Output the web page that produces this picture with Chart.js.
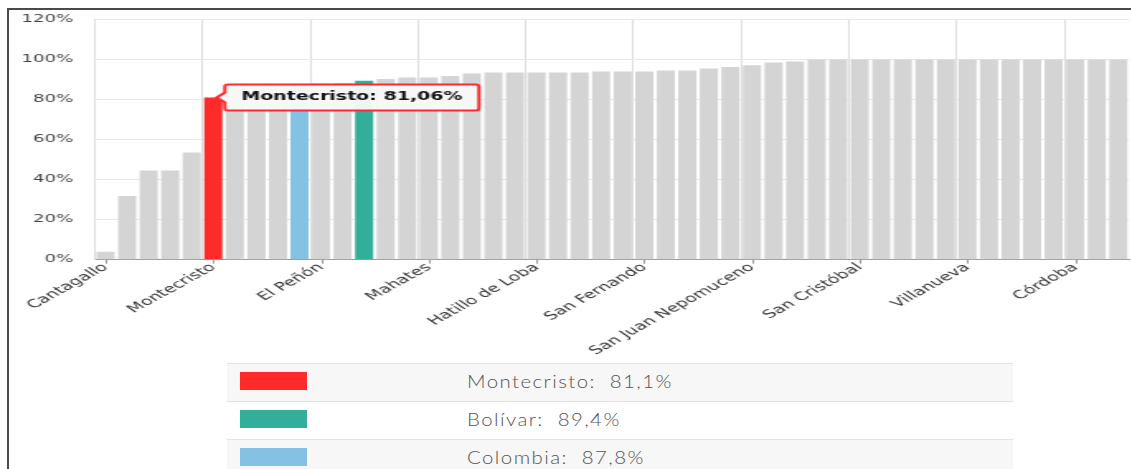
<!DOCTYPE html>
<html>
<head>
<meta charset="utf-8">
<script src="https://cdn.jsdelivr.net/npm/chart.js@4.4.0/dist/chart.umd.min.js"></script>
<style>
body { margin:0; background:#fff; width:1131px; height:469px; overflow:hidden; position:relative; }
#frame { position:absolute; left:7px; top:8px; width:1200px; height:500px; border-left:2px solid #4a4a4a; border-top:2px solid #4a4a4a; }
#chartBox { position:absolute; left:0; top:0.4px; width:688px; height:363px; transform:scaleX(1.65); transform-origin:0 0; }
#legend { position:absolute; left:227px; top:363px; width:786px; font-family:Lato, sans-serif; font-weight:300; font-size:17px; color:#555; }
.row { height:37px; border-top:1px solid #e2e2e2; position:relative; }
.row.alt { background:#f7f7f7; }
.sw { position:absolute; left:13px; top:8px; width:67px; height:18px; }
.txt { position:absolute; left:240px; top:7px; letter-spacing:1.2px; white-space:pre; transform:scaleX(1.2); transform-origin:0 0; }
</style>
</head>
<body>
<div id="frame"></div>
<div id="chartBox"><canvas id="barChart" width="688" height="363"></canvas></div>
<div id="legend"></div>
<script>
// municipios (y totales Bolívar / Colombia), ordenados por valor
var municipios = ["Cantagallo", "Norosí", "Tiquisio", "Arenal", "Altos del Rosario",
	"Montecristo", "Achí", "Barranco de Loba", "San Jacinto del Cauca", "Colombia",
	"El Peñón", "Pinillos", "Bolívar", "Regidor", "Río Viejo",
	"Mahates", "Morales", "San Martín de Loba", "Santa Rosa del Sur", "Simití",
	"Hatillo de Loba", "Margarita", "San Pablo", "Talaigua Nuevo", "Magangué",
	"San Fernando", "Mompós", "Cicuco", "El Carmen de Bolívar", "María La Baja",
	"San Juan Nepomuceno", "Zambrano", "San Jacinto", "El Guamo", "Calamar",
	"San Cristóbal", "Soplaviento", "San Estanislao", "Santa Catalina", "Santa Rosa",
	"Villanueva", "Clemencia", "Arroyohondo", "Turbaná", "Turbaco",
	"Córdoba", "Arjona", "Cartagena"];
var valores = [4.0, 31.8, 44.5, 44.5, 53.5,
	81.06, 87.0, 87.2, 87.5, 87.8,
	88.0, 88.3, 89.4, 90.3, 91.0,
	91.0, 91.8, 93.0, 93.5, 93.5,
	93.5, 93.5, 93.5, 94.0, 94.0,
	94.0, 94.5, 94.5, 95.5, 96.3,
	97.2, 98.5, 99.0, 100, 100,
	100, 100, 100, 100, 100,
	100, 100, 100, 100, 100,
	100, 100, 100];
var yTicks = [0, 20, 40, 60, 80, 100, 120];
var destacados = ["Montecristo", "Bolívar", "Colombia"];
var coloresDestacados = ["#ff2a2a", "#33ae98", "#85c1e2"];
var seleccionado = "Montecristo";

var gris = "#d4d4d4";

function coma(v, d) {
	return v.toFixed(d).replace(".", ",");
}

var colores = [];
for (var i = 0; i < municipios.length; i++) {
	var k = destacados.indexOf(municipios[i]);
	colores.push(k >= 0 ? coloresDestacados[k] : gris);
}

// small tick marks under the labelled categories
var tickMarks = {
	id: "tickMarks",
	afterDraw: function(chart) {
		var xs = chart.scales.x, ctx = chart.ctx;
		ctx.save();
		ctx.strokeStyle = "#9a9a9a";
		ctx.lineWidth = 1;
		for (var i = 0; i < municipios.length; i += 5) {
			var px = Math.round(xs.getPixelForTick(i)) + 0.5;
			ctx.beginPath();
			ctx.moveTo(px, xs.top);
			ctx.lineTo(px, xs.top + 4);
			ctx.stroke();
		}
		ctx.restore();
	}
};

Chart.defaults.font.family = "DejaVu Sans";

var chart = new Chart(document.getElementById("barChart"), {
	type: "bar",
	data: {
		labels: municipios,
		datasets: [{
			data: valores,
			backgroundColor: colores,
			borderWidth: 0,
			barPercentage: 0.84,
			categoryPercentage: 1
		}]
	},
	options: {
		responsive: false,
		animation: false,
		events: [],
		layout: { padding: { left: 0, top: 8, right: 1, bottom: 4 } },
		scales: {
			x: {
				grid: {
					offset: true,
					drawTicks: false,
					color: function(c) { return c.index % 5 === 0 ? "#dedede" : "rgba(0,0,0,0)"; }
				},
				border: { color: "#9a9a9a" },
				ticks: {
					autoSkip: false,
					minRotation: 42,
					maxRotation: 42,
					padding: 1,
					color: "#333",
					font: { size: 11.5 },
					callback: function(v, i) { return i % 5 === 0 ? municipios[i] : ""; }
				}
			},
			y: {
				min: yTicks[0],
				max: yTicks[yTicks.length - 1],
				grid: { color: "#e6e6e6", drawTicks: false },
				border: { color: "#dedede" },
				afterBuildTicks: function(s) { s.ticks = yTicks.map(function(v) { return { value: v }; }); },
				ticks: {
					padding: 13,
					color: "#444",
					font: { size: 11 },
					callback: function(v) { return v + "%"; }
				}
			}
		},
		plugins: {
			legend: { display: false },
			tooltip: {
				animation: false,
				xAlign: "left",
				yAlign: "center",
				backgroundColor: "rgba(248,248,248,0.96)",
				borderColor: "#ff2a2a",
				borderWidth: 2,
				cornerRadius: 2,
				caretSize: 5,
				caretPadding: 2,
				padding: { x: 10, y: 6 },
				displayColors: false,
				bodyColor: "#111",
				bodyFont: { size: 11.5, weight: "bold" },
				callbacks: {
					title: function() { return []; },
					label: function(c) { return c.label + ": " + coma(c.parsed.y, 2) + "%"; }
				}
			}
		}
	},
	plugins: [tickMarks]
});

var idx = municipios.indexOf(seleccionado);
chart.tooltip.setActiveElements([{ datasetIndex: 0, index: idx }], { x: 0, y: 0 });
chart.update();

// legend table below the chart
var legend = document.getElementById("legend");
for (var j = 0; j < destacados.length; j++) {
	var v = valores[municipios.indexOf(destacados[j])];
	var row = document.createElement("div");
	row.className = "row" + (j % 2 === 0 ? " alt" : "");
	row.innerHTML = "<div class='sw' style='background:" + coloresDestacados[j] + "'></div>" +
		"<div class='txt'>" + destacados[j] + ":  " + coma(v, 1) + "%</div>";
	legend.appendChild(row);
}
</script>
</body>
</html>
